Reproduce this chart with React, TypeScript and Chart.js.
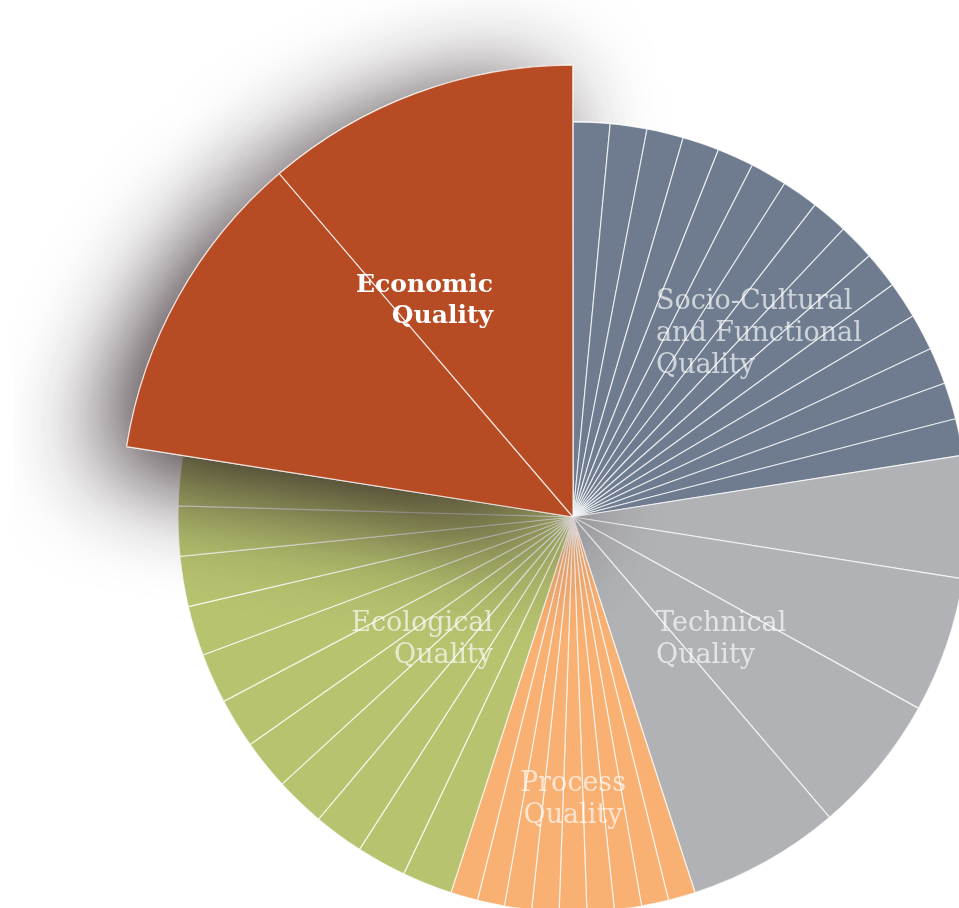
import React, { useEffect, useRef } from 'react';
import { Chart, registerables } from 'chart.js';

Chart.register(...registerables);

// Main categories, clockwise from 12 o'clock
const categories = [
  'Socio-Cultural and Functional Quality',
  'Technical Quality',
  'Process Quality',
  'Ecological Quality',
  'Economic Quality',
];

// Sub-criterion weights (% of the whole) per category
const socioWeights = [1.5, 1.5, 1.5, 1.5, 1.5, 1.5, 1.5, 1.5, 1.5, 1.5, 1.5, 1.5, 1.5, 1.5, 1.5];
const technicalWeights = [5.0, 5.55, 5.7, 6.25];
const processWeights = [1.11, 1.11, 1.11, 1.11, 1.12, 1.11, 1.11, 1.11, 1.11];
const ecologicalWeights = [2.05, 2.04, 2.05, 2.04, 2.05, 2.04, 2.05, 2.04, 2.05, 2.04, 2.04];
const economicWeights = [11.25, 11.25];

// Relative radius of each category (the economic sector is raised)
const categoryHeights = [1, 1, 1, 1, 1.144];

const categoryColors = ['#6f7c8f', '#b1b2b6', '#f8b073', '#b8c370', '#b64b24'];

// Label lines per category
const socioLabel = ['Socio-Cultural', 'and Functional', 'Quality'];
const technicalLabel = ['Technical', 'Quality'];
const processLabel = ['Process', 'Quality'];
const ecologicalLabel = ['Ecological', 'Quality'];
const economicLabel = ['Economic', 'Quality'];

const weightGroups = [socioWeights, technicalWeights, processWeights, ecologicalWeights, economicWeights];

export default function App() {
  const ref = useRef<HTMLCanvasElement | null>(null);

  useEffect(() => {
    if (!ref.current) return;

    const sliceCat: number[] = [];
    const sliceAngles: number[] = [];
    const sliceLabels: string[] = [];
    weightGroups.forEach((group, c) => {
      group.forEach((w, j) => {
        sliceCat.push(c);
        sliceAngles.push(w * 3.6);
        sliceLabels.push(categories[c] + ' ' + (j + 1));
      });
    });
    const radii = sliceCat.map((c) => categoryHeights[c]);
    const colors = sliceCat.map((c) => categoryColors[c]);

    const shadowPlugin = {
      id: 'raisedShadow',
      afterDatasetsDraw(chart: any) {
        const meta = chart.getDatasetMeta(0);
        const ctx = chart.ctx;
        const raised = meta.data.filter((_: any, i: number) => sliceCat[i] === 4);
        const slate = meta.data.filter((_: any, i: number) => sliceCat[i] === 0);
        const first = slate[0];
        const last = slate[slate.length - 1];
        ctx.save();
        // keep the shadow off the socio-cultural sector
        ctx.beginPath();
        ctx.rect(0, 0, chart.width, chart.height);
        ctx.moveTo(first.x, first.y);
        ctx.arc(first.x, first.y, first.outerRadius + 1, first.startAngle, last.endAngle);
        ctx.closePath();
        ctx.clip('evenodd');
        ctx.shadowColor = 'rgba(42,28,34,0.95)';
        ctx.shadowBlur = 100;
        ctx.shadowOffsetX = -26;
        ctx.shadowOffsetY = 20;
        raised.forEach((el: any) => el.draw(ctx));
        ctx.restore();
        raised.forEach((el: any) => el.draw(ctx));
      },
    };

    const labelPlugin = {
      id: 'categoryLabels',
      afterDraw(chart: any) {
        const s = chart.scales.r;
        const cx = s.xCenter;
        const cy = s.yCenter;
        const ctx = chart.ctx;
        const soft = 'rgba(255,255,255,0.66)';
        const normal = '27px "DejaVu Serif"';
        const bold = 'bold 25px "DejaVu Serif"';
        const items = [
          { lines: socioLabel, x: cx + 83, y: cy - 208, align: 'left', font: normal, color: soft, lh: 32 },
          { lines: technicalLabel, x: cx + 83, y: cy + 114, align: 'left', font: normal, color: soft, lh: 32 },
          { lines: processLabel, x: cx, y: cy + 274, align: 'center', font: normal, color: soft, lh: 32 },
          { lines: ecologicalLabel, x: cx - 80, y: cy + 114, align: 'right', font: normal, color: soft, lh: 32 },
          { lines: economicLabel, x: cx - 80, y: cy - 225, align: 'right', font: bold, color: '#ffffff', lh: 31 },
        ];
        ctx.save();
        ctx.textBaseline = 'alphabetic';
        items.forEach((it) => {
          ctx.font = it.font;
          ctx.fillStyle = it.color;
          ctx.textAlign = it.align;
          it.lines.forEach((line, k) => ctx.fillText(line, it.x, it.y + k * it.lh));
        });
        ctx.restore();
      },
    };

    const chart = new Chart(ref.current, {
      type: 'polarArea',
      data: {
        labels: sliceLabels,
        datasets: [
          {
            data: radii,
            angle: (c: any) => sliceAngles[c.dataIndex],
            backgroundColor: colors,
            borderColor: 'rgba(255,255,255,0.72)',
            borderWidth: 1.2,
          } as any,
        ],
      },
      options: {
        responsive: false,
        animation: false,
        layout: { padding: 0 },
        plugins: {
          legend: { display: false },
          tooltip: { enabled: false },
        },
        scales: {
          r: {
            min: 0,
            max: 1.4177,
            startAngle: 0,
            ticks: { display: false },
            grid: { display: false },
            angleLines: { display: false },
            pointLabels: { display: false },
          },
        },
      } as any,
      plugins: [shadowPlugin, labelPlugin],
    });

    return () => chart.destroy();
  }, []);

  return (
    <div
      style={{
        position: 'fixed',
        left: 0,
        top: 0,
        width: '100vw',
        height: '100vh',
        overflow: 'hidden',
        background: '#ffffff',
      }}
    >
      <canvas
        ref={ref}
        width={1120}
        height={1120}
        style={{ position: 'absolute', left: 13, top: -43, width: 1120, height: 1120 }}
      />
    </div>
  );
}
